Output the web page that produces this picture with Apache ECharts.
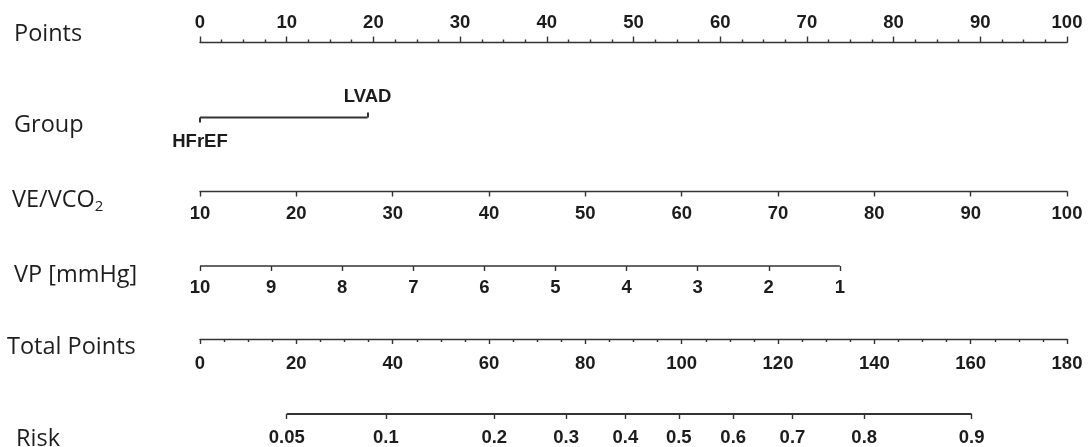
<!DOCTYPE html>
<html><head><meta charset="utf-8">
<script src="https://cdn.jsdelivr.net/npm/echarts@6/dist/echarts.min.js"></script>
<style>html,body{margin:0;padding:0;background:#fff}#c{width:1089px;height:447px}</style>
</head><body><div id="c"></div>
<script>
// ---- data (nomogram scales) ----
const rowLabels = ['Points', 'Group', 'VE/VCO2', 'VP [mmHg]', 'Total Points', 'Risk'];
const groupCategories = ['HFrEF', 'LVAD'];
const groupPoints = [0, 19.33];              // points for each group
const veTicks = [10, 20, 30, 40, 50, 60, 70, 80, 90, 100];
const vpTicks = [10, 9, 8, 7, 6, 5, 4, 3, 2, 1];
const vpPointsAtLowest = 73.8;               // points given to VP = 1 (VP = 10 -> 0 points)
const riskLabels = [0.05, 0.1, 0.2, 0.3, 0.4, 0.5, 0.6, 0.7, 0.8, 0.9];
const riskTotalPoints = [18.0, 38.6, 61.1, 76.0, 88.3, 99.4, 110.7, 123.0, 137.9, 160.2];

// ---- layout / style ----
const rowY = [42.5, 117.5, 191.5, 266, 339, 414];
const labelX = [14, 14, 12, 14, 7, 16];
const labelY = [34, 125, 200.5, 275.5, 347, 439];
const TICKFONT = "'Liberation Sans', Arial, sans-serif";
const ROWFONT = "23.5px 'Open Sans', sans-serif";
const lineStyle = { color: '#333', width: 1.4 };
function tickLabel(margin) {
  return { fontFamily: TICKFONT, fontWeight: 'bold', fontSize: 18.5, color: '#1c1c1c',
           margin: margin, showMinLabel: true, showMaxLabel: true, hideOverlap: false };
}
const noSplit = { show: false };

const vpSpan = vpTicks[0] - vpTicks[vpTicks.length - 1];
const vpAxisMin = vpTicks[0] - 100 * vpSpan / vpPointsAtLowest;

const option = {
  animation: false,
  backgroundColor: '#fff',
  grid: rowY.map(y => ({ left: 200, right: 22, top: y, height: 0 })),
  yAxis: rowY.map((y, i) => ({ gridIndex: i, type: 'value', min: -1, max: 1, show: false })),
  xAxis: [
    { gridIndex: 0, type: 'value', position: 'top', min: 0, max: 100, interval: 10,
      axisLine: { show: true, lineStyle }, axisTick: { show: true, length: 6, lineStyle },
      minorTick: { show: true, splitNumber: 4, length: 3, lineStyle },
      axisLabel: tickLabel(10), splitLine: noSplit, minorSplitLine: noSplit },
    { gridIndex: 1, type: 'value', position: 'bottom', min: 0, max: 100,
      axisLine: { show: false },
      axisTick: { show: true, length: 5, customValues: [groupPoints[0]], lineStyle: { color: '#333', width: 2 } },
      axisLabel: Object.assign(tickLabel(14.5), { customValues: [groupPoints[0]], formatter: () => groupCategories[0] }),
      splitLine: noSplit },
    { gridIndex: 1, type: 'value', position: 'top', min: 0, max: 100,
      axisLine: { show: false },
      axisTick: { show: true, length: 5, customValues: [groupPoints[1]], lineStyle: { color: '#333', width: 2 } },
      axisLabel: Object.assign(tickLabel(11), { customValues: [groupPoints[1]], formatter: () => groupCategories[1] }),
      splitLine: noSplit },
    { gridIndex: 2, type: 'value', position: 'bottom', min: veTicks[0], max: veTicks[veTicks.length - 1], interval: 10,
      axisLine: { show: true, lineStyle }, axisTick: { show: true, length: 5, lineStyle },
      axisLabel: tickLabel(13), splitLine: noSplit },
    { gridIndex: 3, type: 'value', position: 'bottom', inverse: true, min: vpAxisMin, max: vpTicks[0],
      axisLine: { show: false },
      axisTick: { show: true, length: 5, customValues: vpTicks, lineStyle },
      axisLabel: Object.assign(tickLabel(12.5), { customValues: vpTicks }),
      splitLine: noSplit },
    { gridIndex: 4, type: 'value', position: 'bottom', min: 0, max: 180, interval: 20,
      axisLine: { show: true, lineStyle }, axisTick: { show: true, length: 5, lineStyle },
      minorTick: { show: true, splitNumber: 4, length: 3, lineStyle },
      axisLabel: tickLabel(15), splitLine: noSplit, minorSplitLine: noSplit },
    { gridIndex: 5, type: 'value', position: 'bottom', min: 0, max: 180,
      axisLine: { show: false },
      axisTick: { show: true, length: 5, customValues: riskTotalPoints, lineStyle },
      axisLabel: Object.assign(tickLabel(14.5), {
        customValues: riskTotalPoints,
        formatter: v => {
          let best = 0;
          riskTotalPoints.forEach((p, i) => { if (Math.abs(p - v) < Math.abs(riskTotalPoints[best] - v)) best = i; });
          return String(riskLabels[best]);
        } }),
      splitLine: noSplit }
  ],
  series: [
    { type: 'line', xAxisIndex: 1, yAxisIndex: 1, clip: false, symbol: 'none', silent: true,
      lineStyle: { color: '#333', width: 2 }, data: groupPoints.map(p => [p, 0]) },
    { type: 'line', xAxisIndex: 4, yAxisIndex: 3, clip: false, symbol: 'none', silent: true,
      lineStyle: { color: '#333', width: 1.4 },
      data: [[vpTicks[0], 0], [vpTicks[vpTicks.length - 1], 0]] },
    { type: 'line', xAxisIndex: 6, yAxisIndex: 5, clip: false, symbol: 'none', silent: true,
      lineStyle: { color: '#333', width: 2.2 },
      data: [[riskTotalPoints[0], 0], [riskTotalPoints[riskTotalPoints.length - 1], 0]] }
  ],
  graphic: rowLabels.map((t, i) => {
    const style = { fill: '#1e1e1e', font: ROWFONT, verticalAlign: 'middle', align: 'left' };
    if (t === 'VE/VCO2') {
      style.text = '{a|VE/VCO}{b|2}';
      style.rich = {
        a: { fontFamily: 'Open Sans', fontSize: 23.5, lineHeight: 28, fill: '#1e1e1e' },
        b: { fontFamily: 'Open Sans', fontSize: 15, lineHeight: 16, verticalAlign: 'bottom', fill: '#1e1e1e' }
      };
    } else {
      style.text = t;
    }
    return { type: 'text', x: labelX[i], y: labelY[i], style: style, silent: true };
  })
};

const chart = echarts.init(document.getElementById('c'), null, { renderer: 'canvas' });
chart.setOption(option);
</script>
</body></html>
